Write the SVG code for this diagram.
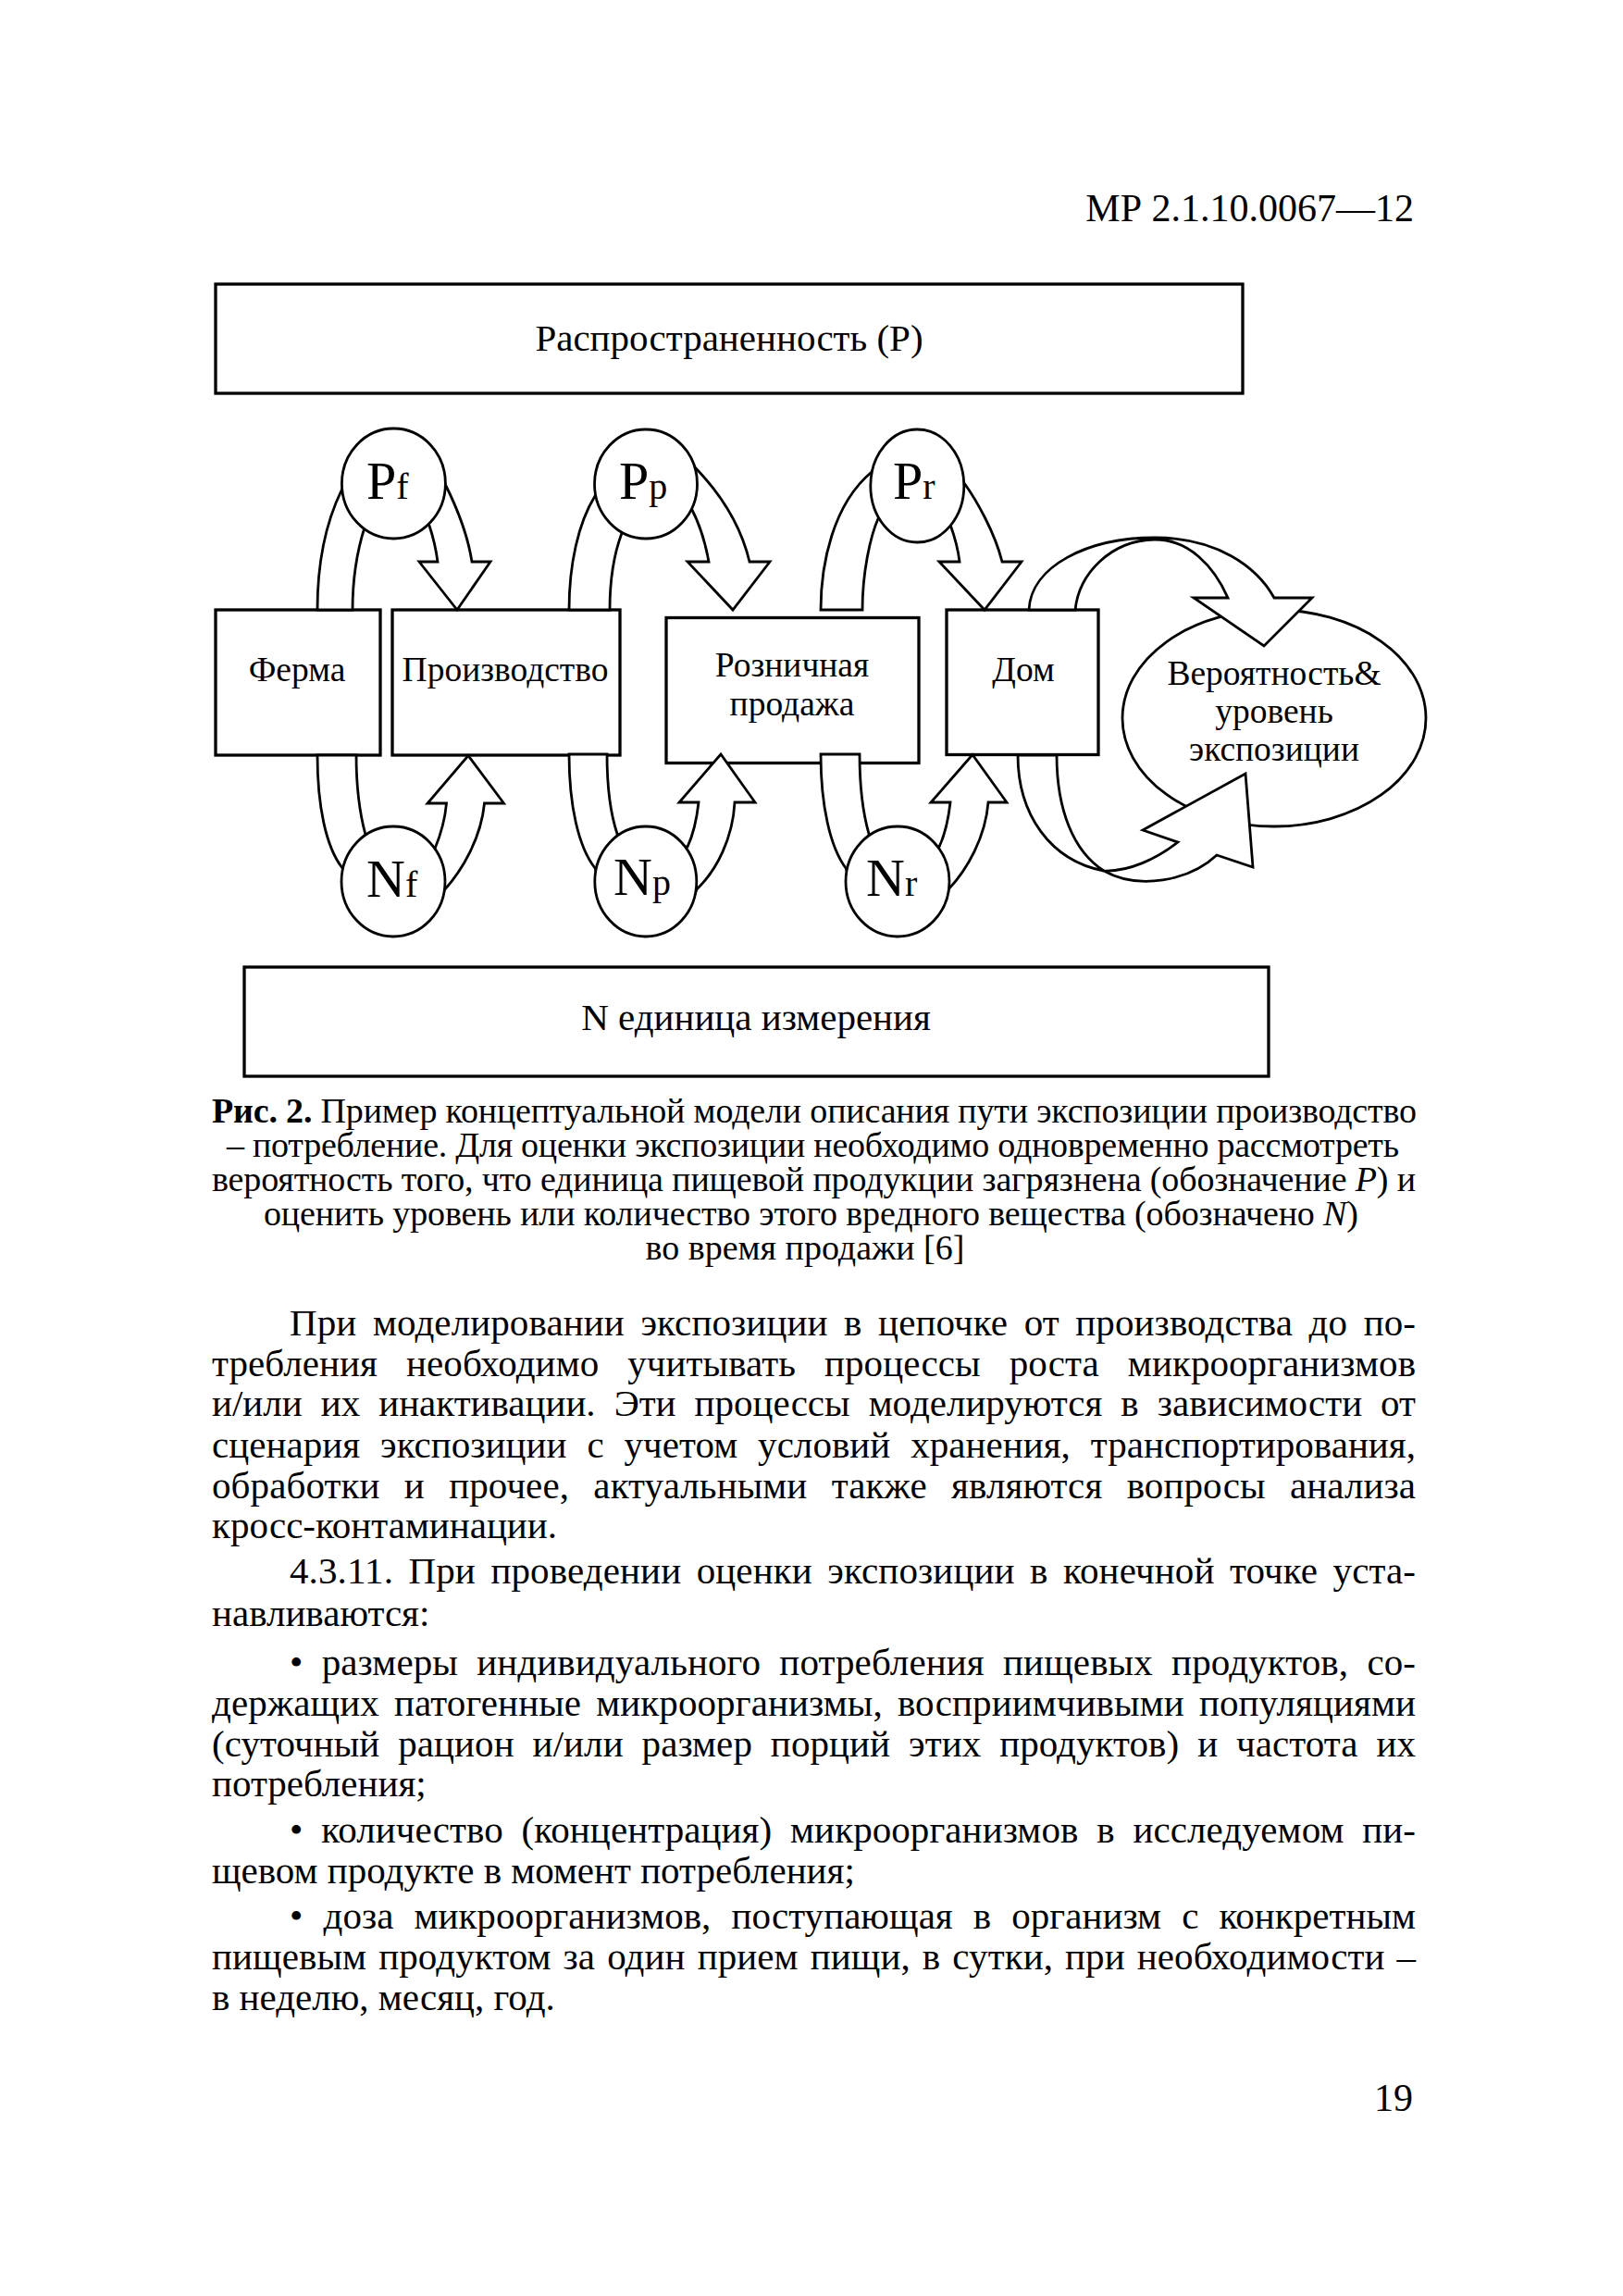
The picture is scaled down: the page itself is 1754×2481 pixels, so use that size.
<svg xmlns="http://www.w3.org/2000/svg" width="1754" height="2481" viewBox="0 0 1754 2481">
<style>
.box{fill:#fff;stroke:#000;stroke-width:3.3}
.circ{fill:#fff;stroke:#000;stroke-width:2.8}
.arr{fill:#fff;stroke:#000;stroke-width:2.8;stroke-linejoin:miter}
text{font-family:"Liberation Serif","Times New Roman",serif;fill:#000}
.lbl{font-size:41px;text-anchor:middle}
.bx{font-size:37.5px;text-anchor:middle}
.big{font-size:58px}
.sub{font-size:40px}
.cap{font-size:38px}
.body{font-size:41px}
</style>
<rect width="1754" height="2481" fill="#fff"/>
<text x="1528" y="239" font-size="42" text-anchor="end">МР 2.1.10.0067—12</text>

<g id="prevalence"><rect class="box" x="233" y="307" width="1110" height="118"/><text class="lbl" x="788" y="379">Распространенность (P)</text></g>
<g id="unit"><rect class="box" x="264" y="1045" width="1107" height="118"/><text class="lbl" x="817" y="1113">N единица измерения</text></g>
<g id="farm"><rect class="box" x="233" y="659" width="178" height="157"/><text class="bx" x="321" y="736">Ферма</text></g>
<g id="production"><rect class="box" x="424" y="659" width="246" height="157"/><text class="bx" x="546" y="736">Производство</text></g>
<g id="retail"><rect class="box" x="720" y="667.5" width="273" height="157"/><text class="bx" x="856" y="731">Розничная</text><text class="bx" x="856" y="773">продажа</text></g>
<g id="home"><rect class="box" x="1023" y="659" width="164" height="156.5"/><text class="bx" x="1106" y="736">Дом</text></g>
<g id="exposure"><ellipse class="circ" cx="1377" cy="776" rx="164" ry="117"/><text class="bx" x="1377" y="740">Вероятность&amp;</text><text class="bx" x="1377" y="781">уровень</text><text class="bx" x="1377" y="822">экспозиции</text></g>

<g id="connectors">
<path class="arr" d="M343,659 C343,610 352,565 369,530 C385,490 460,482 481,523 C492,545 505,575 510,607 L530,607 L494,659 L453,607 L473,607 C471,592 468,580 464,568 C450,535 410,535 394,570 C387,592 381,625 381,659 Z"/>
<path class="arr" d="M615,659 C615,610 625,565 643,536 C660,495 735,485 752,506 C775,530 800,565 810,607 L832,607 L792,659 L743,607 L766,607 C763,590 758,570 747,549 C735,530 690,540 672,576 C663,600 659,630 659,659 Z"/>
<path class="arr" d="M887,659 C887,610 900,545 942,510 C960,470 1025,470 1042,522 C1055,540 1075,575 1083,607 L1104,607 L1064,659 L1015,607 L1037,607 C1035,590 1031,578 1027,567 C1015,540 965,530 950,558 C940,580 932,620 932,659 Z"/>
<path class="arr" d="M343,816 C343,870 352,915 370,938 C385,1000 465,1005 480,962 C500,940 520,905 523.5,868 L544.5,868 L506,816.5 L462,868 L482.5,868 C481,885 477,900 470,917 C450,915 410,915 395,902 C389,880 385,850 385,816 Z"/>
<path class="arr" d="M615,815 C615,870 625,915 643,938 C658,1000 738,1005 753,961 C775,940 792,905 794,867 L816,867 L779,815 L734,867 L755,867 C753,885 750,900 743,915 C725,915 685,915 667,901 C660,880 656,850 656,815 Z"/>
<path class="arr" d="M887,815 C887,870 897,915 914,938 C930,1000 1010,1005 1025,961 C1045,940 1065,905 1068,867 L1088,867 L1051,815.5 L1006,867 L1027,867 C1025,885 1022,900 1015,915 C998,915 955,915 939,901 C933,880 929,850 929,815 Z"/>
<path class="arr" d="M1112,659 C1114,612 1175,581 1248,581 C1315,581 1358,612 1377,646 L1418,646 L1366,698 L1290,646 L1327,646 C1312,612 1285,583 1248,583 C1200,584 1166,620 1162,659 Z"/>
<path class="arr" d="M1100,816 C1100,880 1135,930 1193,941 C1230,962 1285,952 1315,924 L1354,937 L1346,836 L1235,897 L1273,910 C1250,928 1220,942 1193,941 C1160,920 1142,875 1142,816 Z"/>
</g>

<g id="Pf"><ellipse class="circ" cx="425.4" cy="522.5" rx="56" ry="59.5"/><text x="396" y="539"><tspan class="big">P</tspan><tspan class="sub">f</tspan></text></g>
<g id="Pp"><ellipse class="circ" cx="698" cy="523" rx="55.5" ry="59"/><text x="669" y="539"><tspan class="big">P</tspan><tspan class="sub">p</tspan></text></g>
<g id="Pr"><ellipse class="circ" cx="991.3" cy="525" rx="50.5" ry="61"/><text x="965" y="539"><tspan class="big">P</tspan><tspan class="sub">r</tspan></text></g>
<g id="Nf"><ellipse class="circ" cx="425" cy="952.5" rx="56" ry="59.5"/><text x="396" y="969"><tspan class="big">N</tspan><tspan class="sub">f</tspan></text></g>
<g id="Np"><ellipse class="circ" cx="697.8" cy="952.5" rx="55" ry="59.5"/><text x="663" y="967"><tspan class="big">N</tspan><tspan class="sub">p</tspan></text></g>
<g id="Nr"><ellipse class="circ" cx="970" cy="952.5" rx="56" ry="59.5"/><text x="936" y="968"><tspan class="big">N</tspan><tspan class="sub">r</tspan></text></g>

<g class="cap">
<text x="229" y="1213" textLength="1302" lengthAdjust="spacing"><tspan font-weight="bold">Рис. 2.</tspan> Пример концептуальной модели описания пути экспозиции производство</text>
<text x="245" y="1250" textLength="1267" lengthAdjust="spacing">– потребление. Для оценки экспозиции необходимо одновременно рассмотреть</text>
<text x="229" y="1287" textLength="1301" lengthAdjust="spacing">вероятность того, что единица пищевой продукции загрязнена (обозначение <tspan font-style="italic">P</tspan>) и</text>
<text x="285" y="1324" textLength="1183" lengthAdjust="spacing">оценить уровень или количество этого вредного вещества (обозначено <tspan font-style="italic">N</tspan>)</text>
<text x="870" y="1361" text-anchor="middle">во время продажи [6]</text>
</g>

<g class="body">
<text x="313" y="1443" word-spacing="7.2" textLength="1217" lengthAdjust="spacing">При моделировании экспозиции в цепочке от производства до по-</text>
<text x="229" y="1487" word-spacing="20.7" textLength="1301" lengthAdjust="spacing">требления необходимо учитывать процессы роста микроорганизмов</text>
<text x="229" y="1530" word-spacing="9.8" textLength="1301" lengthAdjust="spacing">и/или их инактивации. Эти процессы моделируются в зависимости от</text>
<text x="229" y="1575" word-spacing="11.6" textLength="1301" lengthAdjust="spacing">сценария экспозиции с учетом условий хранения, транспортирования,</text>
<text x="229" y="1619" word-spacing="16" textLength="1301" lengthAdjust="spacing">обработки и прочее, актуальными также являются вопросы анализа</text>
<text x="229" y="1662">кросс-контаминации.</text>
<text x="313" y="1711" word-spacing="6.1" textLength="1217" lengthAdjust="spacing">4.3.11. При проведении оценки экспозиции в конечной точке уста-</text>
<text x="229" y="1757">навливаются:</text>
<text x="313" y="1810" word-spacing="9.9" textLength="1217" lengthAdjust="spacing">• размеры индивидуального потребления пищевых продуктов, со-</text>
<text x="229" y="1854" word-spacing="5.7" textLength="1301" lengthAdjust="spacing">держащих патогенные микроорганизмы, восприимчивыми популяциями</text>
<text x="229" y="1898" word-spacing="9.6" textLength="1301" lengthAdjust="spacing">(суточный рацион и/или размер порций этих продуктов) и частота их</text>
<text x="229" y="1941">потребления;</text>
<text x="313" y="1991" word-spacing="9.5" textLength="1217" lengthAdjust="spacing">• количество (концентрация) микроорганизмов в исследуемом пи-</text>
<text x="229" y="2035">щевом продукте в момент потребления;</text>
<text x="313" y="2084" word-spacing="11.8" textLength="1217" lengthAdjust="spacing">• доза микроорганизмов, поступающая в организм с конкретным</text>
<text x="229" y="2128" word-spacing="2.7" textLength="1301" lengthAdjust="spacing">пищевым продуктом за один прием пищи, в сутки, при необходимости –</text>
<text x="229" y="2172">в неделю, месяц, год.</text>
</g>
<text x="1527" y="2281" font-size="42" text-anchor="end">19</text>
</svg>
